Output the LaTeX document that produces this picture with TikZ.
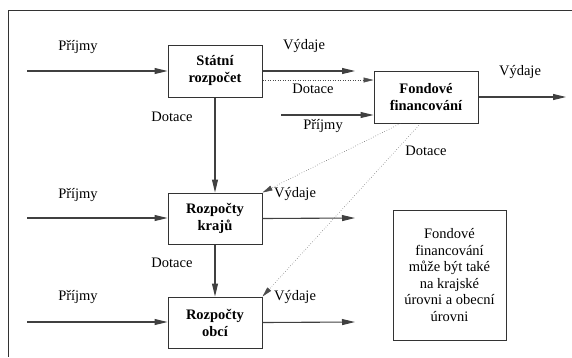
\documentclass[tikz,border=0pt]{standalone}
\usepackage{fontspec}
\setmainfont{Liberation Serif}
\newfontfamily\tnr{Liberation Serif}
\usetikzlibrary{arrows.meta,calc}
\begin{document}
\begin{tikzpicture}[x=1pt,y=-1pt,
  every node/.style={font=\tnr\fontsize{14.5}{16.5}\selectfont, inner sep=0pt},
  box/.style={draw=black!80, line width=1pt, align=center, font=\tnr\fontsize{14.5}{17}\selectfont\bfseries},
  flow/.style={draw=black!75, line width=1.1pt, -{Triangle[length=13pt,width=6pt]}},
  dflow/.style={draw=black!70, line width=0.5pt, dotted, -{Triangle[length=10pt,width=5pt]}}]
\useasboundingbox (0,0) rectangle (572,357);
\draw[black!80, line width=1pt] (572,10) -- (8,10) -- (8,357);

\node[box, minimum width=94pt, minimum height=52pt] (stat) at (215,71) {Státní\\rozpočet};
\node[box, minimum width=104pt, minimum height=52pt] (fond) at (426,97) {Fondové\\financování};
\node[box, minimum width=94pt, minimum height=51pt] (kraj) at (215,218.5) {Rozpočty\\krajů};
\node[box, minimum width=94pt, minimum height=51pt] (obci) at (215,322.5) {Rozpočty\\obcí};
\node[draw=black!80, line width=1pt, minimum width=113pt, minimum height=130pt, align=center,
      font=\tnr\fontsize{14.5}{16.5}\selectfont] (note) at (449.5,275) {Fondové\\financování\\může být také\\na krajské\\úrovni a obecní\\úrovni};

\coordinate (p1) at (27,71);
\coordinate (p3) at (27,218);
\coordinate (p4) at (27,322);
\coordinate (p2) at (281,115);
\coordinate (v1) at (355,71);
\coordinate (v2) at (566,97);
\coordinate (v3) at (355,218);
\coordinate (v4) at (355,322);
\coordinate (d1) at (300,80);
\coordinate (f1) at ($(fond.south west)+(27,0)$);
\coordinate (f2) at ($(fond.south west)+(47,0)$);

\draw[flow] (p1) -- (p1 -| stat.west);
\draw[flow] (stat.east) -- (v1);
\draw[dflow] (stat.east |- d1) -- (fond.west |- d1);
\draw[flow] (p2) -- (fond.west |- p2);
\draw[flow] (fond.east) -- (v2);
\draw[flow] (stat.south) -- (kraj.north);
\draw[flow] (p3) -- (p3 -| kraj.west);
\draw[flow] (kraj.east) -- (v3);
\draw[flow] (kraj.south) -- (obci.north);
\draw[flow] (p4) -- (p4 -| obci.west);
\draw[flow] (obci.east) -- (v4);
\draw[dflow] (f1) -- (kraj.north east);
\draw[dflow] (f2) -- (obci.north east);

\node (l1) at (78,47) {Příjmy};
\node (l2) at (304,46) {Výdaje};
\node (l3) at (313,89) {Dotace};
\node (l4) at (323,126) {Příjmy};
\node (l5) at (520,72) {Výdaje};
\node (l6) at (426,151) {Dotace};
\node (l7) at (172,117) {Dotace};
\node (l8) at (78,195) {Příjmy};
\node (l9) at (295,194) {Výdaje};
\node (l10) at (172,263) {Dotace};
\node (l11) at (78,297) {Příjmy};
\node (l12) at (295,297) {Výdaje};
\end{tikzpicture}
\end{document}
